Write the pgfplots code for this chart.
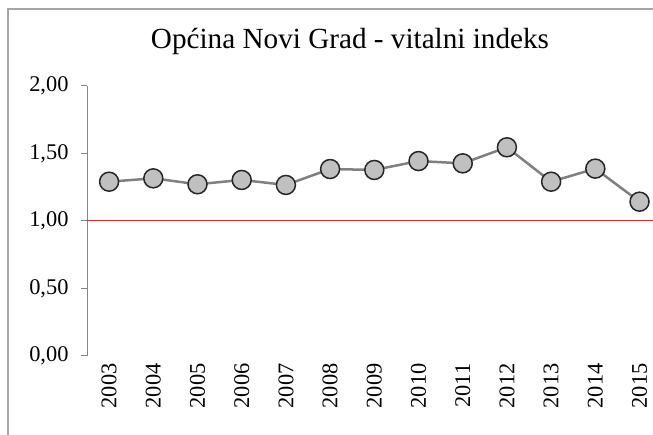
\documentclass[border=0pt]{standalone}
\usepackage{fontspec}
\setmainfont{Liberation Serif}
\usepackage{pgfplots}
\pgfplotsset{compat=1.18}
\definecolor{axisgray}{RGB}{134,134,134}
\definecolor{framegray}{RGB}{166,166,166}
\definecolor{linegray}{RGB}{128,128,128}
\definecolor{markfill}{RGB}{192,192,192}
\definecolor{markdraw}{RGB}{38,38,38}
\definecolor{refred}{RGB}{220,40,40}

\begin{document}
\begin{tikzpicture}[x=1bp,y=1bp]
\useasboundingbox (0,0) rectangle (653,435);
% outer chart frame (right and bottom edges are cropped in the reference)
\draw[framegray,line width=1.5bp] (8,0) -- (8,426) -- (653,426);
\node[anchor=base,font=\fontsize{29.3}{32}\selectfont] at (350,386)
  {Općina Novi Grad - vitalni indeks};
\begin{axis}[scale only axis,width=566bp,height=270bp,
  at={(87bp,79bp)},anchor=south west,
  xmin=-0.5,xmax=12.305,ymin=0,ymax=2,
  axis x line*=bottom, axis y line*=left,
  x axis line style={draw=none},
  y axis line style={axisgray,line width=1bp},
  xtick={0,...,12},
  xticklabels={2003,2004,2005,2006,2007,2008,2009,2010,2011,2012,2013,2014,2015},
  x tick style={draw=none},
  xticklabel style={rotate=90,anchor=east,xshift=2bp},
  ytick={0,0.5,1,1.5,2},
  y tick style={axisgray,line width=1bp},
  tick align=outside, major tick length=6bp,
  tick label style={font=\fontsize{22.5}{25}\selectfont},
  yticklabel style={xshift=-9bp,/pgf/number format/.cd,use comma,fixed,
    fixed zerofill,precision=2,assume math mode=true},
  clip=false]
\addplot[refred,line width=1bp] coordinates {(-0.5,1) (12.305,1)};
\addplot[linegray,line width=2.5bp,mark=*,
  mark options={fill=markfill,draw=markdraw,line width=1.5bp},
  mark size=9.5bp] coordinates {
  (0,1.291) (1,1.316) (2,1.272) (3,1.304) (4,1.267) (5,1.385) (6,1.378)
  (7,1.444) (8,1.427) (9,1.546) (10,1.291) (11,1.388) (12,1.143)};
\end{axis}
\end{tikzpicture}
\end{document}
